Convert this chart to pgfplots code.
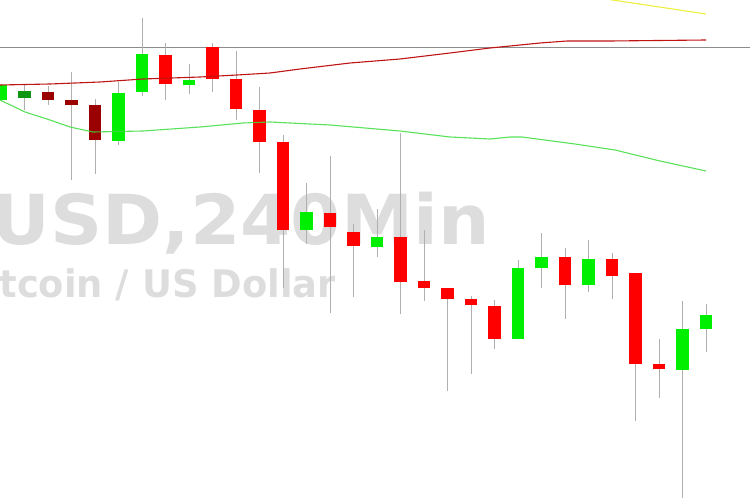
\documentclass[border=0pt]{standalone}
\usepackage{fontspec}
\setmainfont{DejaVu Sans}
\usepackage{graphicx}
\usepackage{pgfplots}
\usepackage{pgfplotstable}
\pgfplotsset{compat=1.18}

\definecolor{upcol}{RGB}{0,238,0}
\definecolor{dncol}{RGB}{255,0,0}
\definecolor{updark}{RGB}{17,150,17}
\definecolor{dndark}{RGB}{155,0,0}
\definecolor{wickcol}{RGB}{175,175,175}
\definecolor{levelcol}{RGB}{140,140,140}
\definecolor{maslow}{RGB}{190,20,20}
\definecolor{mafast}{RGB}{60,220,60}
\definecolor{mayel}{RGB}{238,238,60}
\definecolor{wmark}{RGB}{221,221,221}

% candles: i = bar index, o h l c in chart pixels (y grows downward)
\pgfplotstableread{
i o h l c
0 100 84 101 85
5 141 82 145 93
6 92 18 96 54
8 85 64 94 80
13 230 183 244 212
16 247 209 257 237
22 339 260 339 268
23 268 233 288 257
25 285 240 292 259
29 370 301 498 329
30 329 304 352 315
}\upbars

\pgfplotstableread{
i o h l c
7 55 43 100 84
9 47 43 92 79
10 79 51 120 109
11 110 87 173 142
12 142 135 288 230
14 213 156 313 227
15 232 224 297 246
17 237 133 314 282
18 281 230 301 288
19 288 288 391 299
20 299 296 374 305
21 306 300 349 339
24 257 248 319 285
26 259 253 299 276
27 273 273 421 364
28 364 339 398 369
}\dnbars

\pgfplotstableread{
i o h l c
1 98 85 110 91
}\updarkbars

\pgfplotstableread{
i o h l c
2 92 86 105 100
3 100 72 180 105
4 105 99 174 140
}\dndarkbars

\pgfplotstableread{
x y
0 85
50 84
100 82
143 79
200 77
237 75
270 73
300 69
350 63
400 59
450 53
490 48
540 43
567 41
610 41
706 40
}\maslowtab

\pgfplotstableread{
x y
0 100
25 112
50 120
70 127
93 132
143 131
200 127
243 123
270 122
330 125
400 131
450 137
490 139
510 137
522 137
575 144
615 150
660 161
706 171
}\mafasttab

\pgfplotsset{
  wick/.style={draw=none, mark=none,
    error bars/.cd, y dir=both, y explicit, error mark=none,
    error bar style={line width=1pt, draw=wickcol}},
  body/.style={draw=none, mark=none,
    error bars/.cd, y dir=both, y explicit, error mark=none,
    error bar style={line width=12.5pt, draw=#1}},
}

\newcommand{\candles}[2]{%
  \addplot[wick] table[x expr=1+23.5*\thisrow{i},
    y expr=(\thisrow{h}+\thisrow{l})/2,
    y error expr=(\thisrow{l}-\thisrow{h})/2] {#1};
  \addplot[body=#2] table[x expr=1+23.5*\thisrow{i},
    y expr=(\thisrow{o}+\thisrow{c})/2,
    y error expr=abs(\thisrow{o}-\thisrow{c})/2] {#1};
}

\begin{document}
\begin{tikzpicture}
\begin{axis}[
  scale only axis,
  width=750pt, height=500pt,
  xmin=0, xmax=750,
  ymin=0, ymax=500,
  y dir=reverse,
  hide axis,
]
% watermark
\node[anchor=base east, inner sep=0pt, text=wmark] at (axis cs:490,244)
  {\scalebox{1.05}[1]{\fontsize{69}{69}\selectfont\bfseries BTCUSD,240Min}};
\node[anchor=base east, inner sep=0pt, text=wmark] at (axis cs:336,297)
  {\scalebox{0.97}[1]{\fontsize{38}{38}\selectfont\bfseries Bitcoin / US Dollar}};

\addplot[levelcol, line width=1pt] coordinates {(0,48) (750,48)};

\candles{\upbars}{upcol}
\candles{\dnbars}{dncol}
\candles{\updarkbars}{updark}
\candles{\dndarkbars}{dndark}

\addplot[maslow, line width=1.1pt] table {\maslowtab};
\addplot[mafast, line width=1.1pt, opacity=0.85] table {\mafasttab};
\addplot[mayel, line width=1.1pt] coordinates {(606,-1) (706,14)};
\end{axis}
\pgfresetboundingbox
\path (current axis.south west) rectangle (current axis.north east);
\end{tikzpicture}
\end{document}
